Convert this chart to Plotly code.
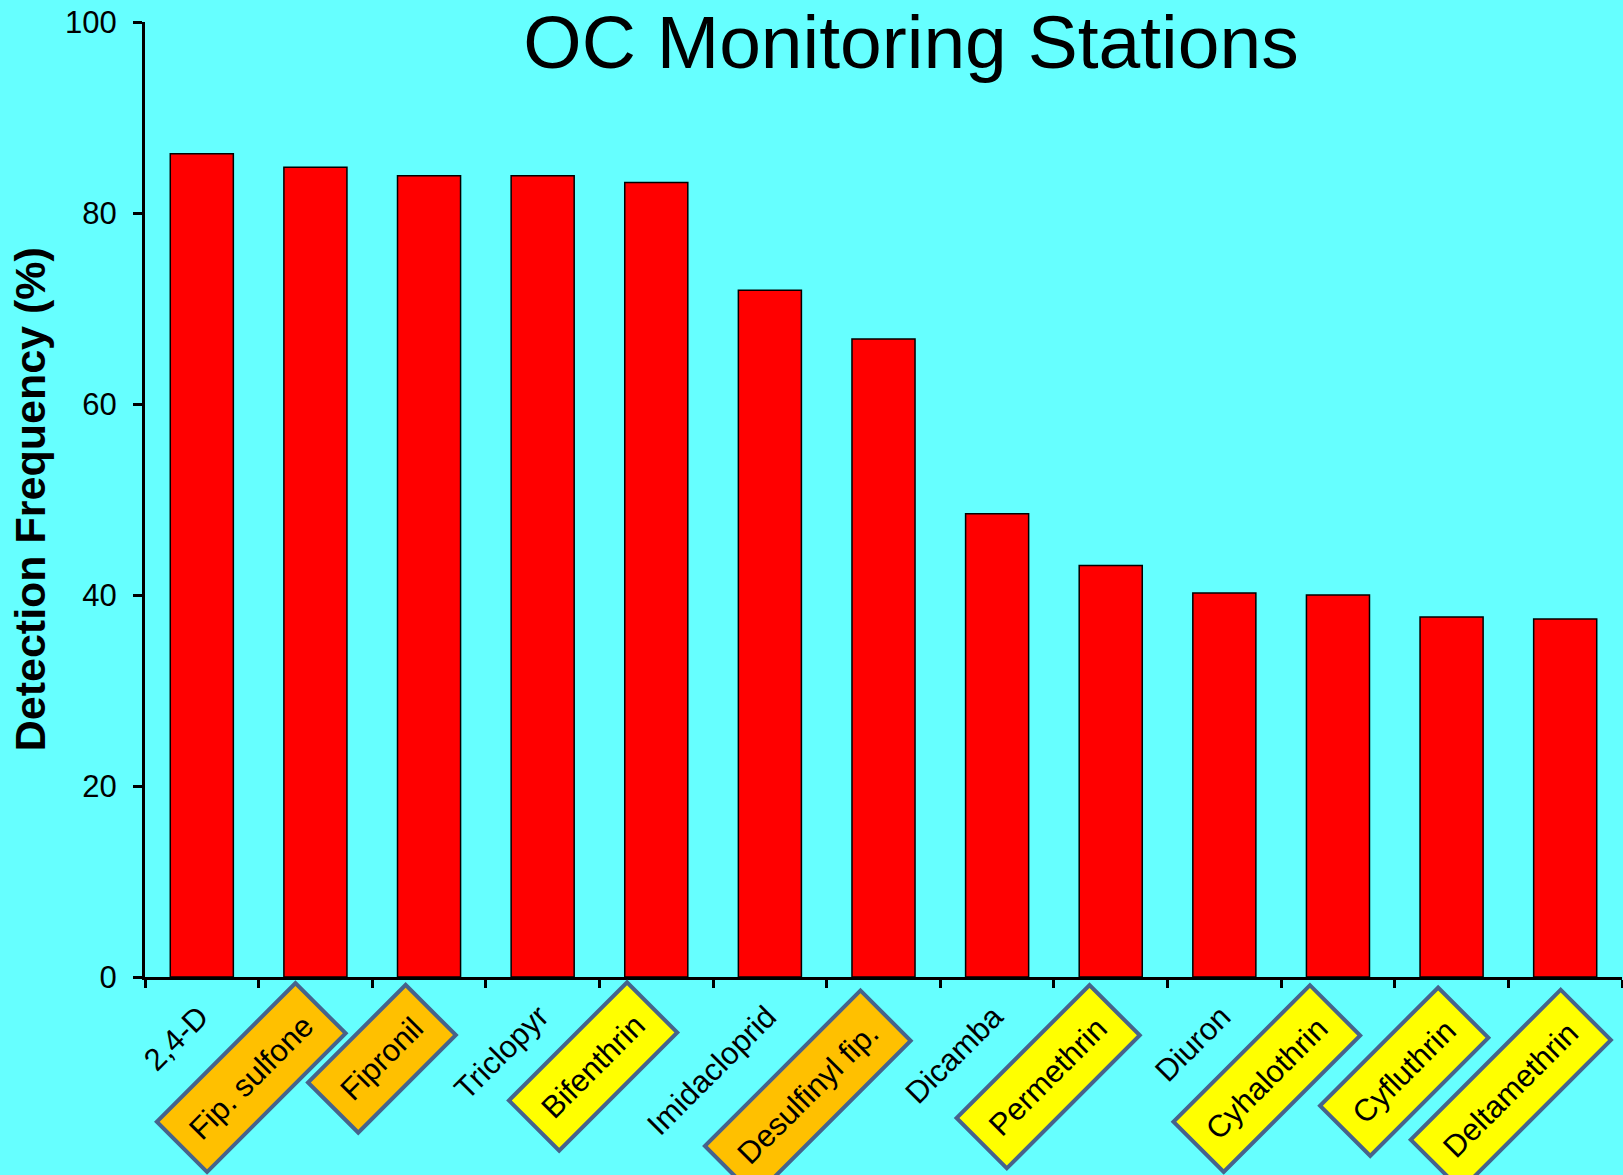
import plotly.graph_objects as go

# ---- data ----
compounds = ["2,4-D", "Fip. sulfone", "Fipronil", "Triclopyr", "Bifenthrin", "Imidacloprid",
             "Desulfinyl fip.", "Dicamba", "Permethrin", "Diuron", "Cyhalothrin",
             "Cyfluthrin", "Deltamethrin"]
detection_freq = [86.2, 84.8, 83.9, 83.9, 83.2, 71.9, 66.8, 48.5, 43.1, 40.2, 40.0, 37.7, 37.5]
# label highlight group: "" = none, "fipronil" = orange box, "pyrethroid" = yellow box
label_group = ["", "fipronil", "fipronil", "", "pyrethroid", "", "fipronil", "",
               "pyrethroid", "", "pyrethroid", "pyrethroid", "pyrethroid"]
y_ticks = [0, 20, 40, 60, 80, 100]

# ---- styles ----
BG = "#66FFFF"
FONT = "Liberation Sans, Arial, sans-serif"
box_colors = {"fipronil": "#FFC000", "pyrethroid": "#FFFF00"}
BOX_BORDER = "#46638C"
# per-label offsets (pixels) of the label box from the category centre
label_dx = [16, 33, 30, 16, 24, 16, 30, 16, 32, 16, 25, 40, 49]
label_dy = [-19, -3, -5, -19, -3, -19, -11, -19, -5, -19, -5, -8, -10]

fig = go.Figure()
fig.add_trace(go.Bar(
    x=compounds, y=detection_freq,
    marker=dict(color="#FF0000", line=dict(color="black", width=1.5)),
    showlegend=False,
))

annotations = []
for i, (name, grp) in enumerate(zip(compounds, label_group)):
    ann = dict(
        x=name, y=0, xref="x", yref="y",
        text=name, showarrow=False, textangle=-45,
        xanchor="right", yanchor="top",
        xshift=label_dx[i], yshift=label_dy[i],
        font=dict(family=FONT, size=31, color="black"),
    )
    if grp:
        ann.update(bgcolor=box_colors[grp], bordercolor=BOX_BORDER,
                   borderwidth=4, borderpad=16)
    annotations.append(ann)

annotations.append(dict(
    text="<b>Detection Frequency (%)</b>", textangle=-90,
    xref="paper", yref="paper", x=-0.078, y=0.5,
    xanchor="center", yanchor="middle", showarrow=False,
    font=dict(family=FONT, size=43, color="black"),
))

fig.update_layout(
    width=1623, height=1175,
    margin=dict(l=145, r=1, t=22, b=198),
    paper_bgcolor=BG, plot_bgcolor=BG,
    bargap=0.445,
    title=dict(text="OC Monitoring Stations", x=0.5613, xref="container", xanchor="center",
               y=0.9645, yref="container", yanchor="middle",
               font=dict(family=FONT, size=75, color="black")),
    annotations=annotations,
    font=dict(family=FONT, color="black"),
)
fig.update_xaxes(
    showline=True, linecolor="black", linewidth=3,
    ticks="outside", tickson="boundaries", ticklen=8, tickwidth=3, tickcolor="black",
    showticklabels=False, showgrid=False, zeroline=False,
    range=[-0.5, len(compounds) - 0.5],
)
fig.update_yaxes(
    range=[0, 100], tickvals=y_ticks,
    showline=True, linecolor="black", linewidth=3,
    ticks="outside", ticklen=9, tickwidth=3, tickcolor="black",
    tickfont=dict(family=FONT, size=31, color="black"),
    ticklabelstandoff=10,
    showgrid=False, zeroline=False,
)

fig.write_html(
    "out.html",
    config={"displayModeBar": False},
    post_script="document.body.style.margin='0px';document.body.style.overflow='hidden';",
)
